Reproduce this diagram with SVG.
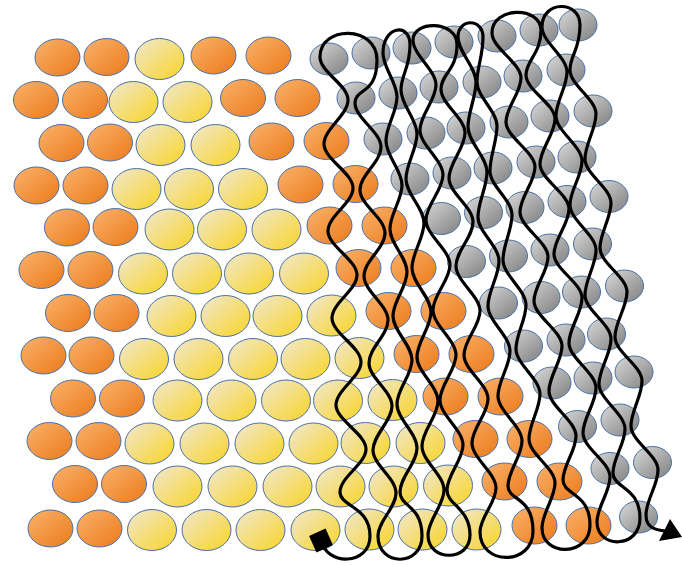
<svg xmlns="http://www.w3.org/2000/svg" xmlns:xlink="http://www.w3.org/1999/xlink" width="682" height="565" viewBox="0 0 682 565">
<style>
.line{fill:none;stroke:#000;stroke-width:3.2;stroke-linejoin:round;stroke-linecap:round}
.sh{stroke:#4a6fa5;stroke-width:1}
</style>
<defs>
<linearGradient id="go" x1="0" y1="0" x2="1" y2="1"><stop offset="0" stop-color="#f9b26c"/><stop offset="1" stop-color="#ec7a1a"/></linearGradient>
<linearGradient id="gy" x1="0" y1="0" x2="1" y2="1"><stop offset="0" stop-color="#efe8d2"/><stop offset="1" stop-color="#fad424"/></linearGradient>
<linearGradient id="gg" x1="0" y1="0" x2="1" y2="1"><stop offset="0" stop-color="#dadada"/><stop offset="1" stop-color="#7f7f7f"/></linearGradient>
<ellipse id="eo" class="sh" rx="22.5" ry="18.5" fill="url(#go)"/>
<ellipse id="ey" class="sh" rx="24.5" ry="20.5" fill="url(#gy)"/>
<ellipse id="eg" class="sh" rx="19" ry="16" fill="url(#gg)"/>
</defs>
<rect width="682" height="565" fill="#fff"/>
<g id="row1">
<use href="#eo" x="57.5" y="57.5"/><use href="#eo" x="106.5" y="57"/><use href="#ey" x="159.5" y="59"/><use href="#eo" x="213.5" y="55.5"/><use href="#eo" x="268.5" y="55.5"/>
<use href="#eg" x="329" y="59"/><use href="#eg" x="371" y="53"/><use href="#eg" x="412" y="48"/><use href="#eg" x="454" y="42"/><use href="#eg" x="497" y="36"/><use href="#eg" x="539" y="30"/><use href="#eg" x="578" y="25"/>
</g>
<g id="row2">
<use href="#eo" x="36" y="100"/><use href="#eo" x="85" y="100"/><use href="#ey" x="133.5" y="102"/><use href="#ey" x="187.5" y="102"/><use href="#eo" x="243" y="98"/><use href="#eo" x="297.5" y="98"/>
<use href="#eg" x="356" y="98"/><use href="#eg" x="398" y="93"/><use href="#eg" x="439" y="87"/><use href="#eg" x="482" y="82"/><use href="#eg" x="523" y="76"/><use href="#eg" x="566" y="70"/>
</g>
<g id="row3">
<use href="#eo" x="61.5" y="143"/><use href="#eo" x="110" y="142.5"/><use href="#ey" x="160.5" y="145"/><use href="#ey" x="215.5" y="145"/><use href="#eo" x="271.5" y="141.5"/><use href="#eo" x="326.5" y="141"/>
<use href="#eg" x="383" y="139"/><use href="#eg" x="426" y="133"/><use href="#eg" x="466" y="128"/><use href="#eg" x="509" y="122"/><use href="#eg" x="550" y="116"/><use href="#eg" x="593" y="111"/>
</g>
<g id="row4">
<use href="#eo" x="36.5" y="185.5"/><use href="#eo" x="85.5" y="185.5"/><use href="#ey" x="136.5" y="189"/><use href="#ey" x="189" y="189"/><use href="#ey" x="243" y="189"/><use href="#eo" x="300.5" y="184.5"/><use href="#eo" x="355.5" y="184"/>
<use href="#eg" x="410" y="179"/><use href="#eg" x="452" y="173"/><use href="#eg" x="493" y="168"/><use href="#eg" x="536" y="162"/><use href="#eg" x="577" y="157"/>
</g>
<g id="row5">
<use href="#eo" x="67" y="227.5"/><use href="#eo" x="115.5" y="227"/><use href="#ey" x="169.5" y="229.5"/><use href="#ey" x="222" y="229.5"/><use href="#ey" x="276.5" y="229.5"/><use href="#eo" x="329.5" y="225.5"/><use href="#eo" x="384.5" y="225.5"/>
<use href="#eg" x="441.5" y="218.5"/><use href="#eg" x="483.5" y="212.5"/><use href="#eg" x="525" y="207.5"/><use href="#eg" x="567" y="201.5"/><use href="#eg" x="609" y="196.5"/>
</g>
<g id="row6">
<use href="#eo" x="41.5" y="270"/><use href="#eo" x="90.5" y="270"/><use href="#ey" x="143" y="273.5"/><use href="#ey" x="197" y="273.5"/><use href="#ey" x="249" y="273.5"/><use href="#ey" x="304" y="273.5"/><use href="#eo" x="358.5" y="268"/><use href="#eo" x="413.5" y="268"/>
<use href="#eg" x="466.5" y="261.5"/><use href="#eg" x="508.5" y="256"/><use href="#eg" x="550" y="250"/><use href="#eg" x="592.5" y="244"/>
</g>
<g id="row7">
<use href="#eo" x="68" y="313"/><use href="#eo" x="116.5" y="313"/><use href="#ey" x="171.5" y="316"/><use href="#ey" x="225.5" y="316"/><use href="#ey" x="277.5" y="316"/><use href="#ey" x="331.5" y="315.5"/><use href="#eo" x="388.5" y="311"/><use href="#eo" x="443.5" y="311"/>
<use href="#eg" x="498.5" y="303"/><use href="#eg" x="541" y="297.5"/><use href="#eg" x="581.5" y="292"/><use href="#eg" x="624.5" y="286"/>
</g>
<g id="row8">
<use href="#eo" x="43.5" y="355.5"/><use href="#eo" x="91.5" y="355.5"/><use href="#ey" x="144" y="359"/><use href="#ey" x="198.5" y="359"/><use href="#ey" x="253" y="359"/><use href="#ey" x="305.5" y="359"/><use href="#ey" x="359.5" y="358"/><use href="#eo" x="416.5" y="354"/><use href="#eo" x="471.5" y="354"/>
<use href="#eg" x="523.5" y="346"/><use href="#eg" x="566" y="340"/><use href="#eg" x="606.5" y="334"/>
</g>
<g id="row9">
<use href="#eo" x="73" y="398.5"/><use href="#eo" x="122" y="398.5"/><use href="#ey" x="177.5" y="400.5"/><use href="#ey" x="231.5" y="400.5"/><use href="#ey" x="286" y="400.5"/><use href="#ey" x="338" y="400.5"/><use href="#ey" x="392.5" y="400"/><use href="#eo" x="445.5" y="396.5"/><use href="#eo" x="500.5" y="396.5"/>
<use href="#eg" x="552" y="383"/><use href="#eg" x="593" y="378"/><use href="#eg" x="634" y="372"/>
</g>
<g id="row10">
<use href="#eo" x="49.5" y="441"/><use href="#eo" x="98.5" y="441"/><use href="#ey" x="149.5" y="443.5"/><use href="#ey" x="204.5" y="443.5"/><use href="#ey" x="259.5" y="443.5"/><use href="#ey" x="313.5" y="443.5"/><use href="#ey" x="365.5" y="443"/><use href="#ey" x="420.5" y="443"/><use href="#eo" x="475.5" y="439"/><use href="#eo" x="529.5" y="439"/>
<use href="#eg" x="577.5" y="426.5"/><use href="#eg" x="620" y="420"/>
</g>
<g id="row11">
<use href="#eo" x="75" y="484"/><use href="#eo" x="124" y="484"/><use href="#ey" x="177.5" y="486.5"/><use href="#ey" x="232.5" y="486.5"/><use href="#ey" x="287.5" y="486.5"/><use href="#ey" x="340.5" y="486.5"/><use href="#ey" x="393.5" y="486.5"/><use href="#ey" x="448" y="485.5"/><use href="#eo" x="504.5" y="481.5"/><use href="#eo" x="559.5" y="481.5"/>
<use href="#eg" x="610" y="468.5"/><use href="#eg" x="652.5" y="462.5"/>
</g>
<g id="row12">
<use href="#eo" x="50.5" y="528.5"/><use href="#eo" x="99.5" y="528.5"/><use href="#ey" x="152" y="530"/><use href="#ey" x="206.5" y="530"/><use href="#ey" x="260.5" y="530"/><use href="#ey" x="315.5" y="530"/><use href="#ey" x="369.5" y="529.5"/><use href="#ey" x="422.5" y="529.5"/><use href="#ey" x="476.5" y="529.5"/><use href="#eo" x="534.5" y="525.5"/><use href="#eo" x="588.5" y="525.5"/>
<use href="#eg" x="638.5" y="517"/>
</g>
<g id="connectors">
<path class="line" d="M321,540 C326,566 370,566 370,536
S340,507 340,492 S366,464 366,449 S336,420 336,405 S361,377 361,362 S332,333 332,318 S357,290 357,275 S328,246 328,231 S353,203 353,188 S324,159 324,144 S348,115 348,100 S320,72 320,57
C320,25 377,25 377,60
S355,88 355,103 S381,132 381,147 S360,175 360,190 S385,218 385,233 S364,261 364,276 S388,305 388,320 S369,348 369,363 S392,391 392,406 S373,435 373,450 S396,478 396,493 S378,521 378,536
C378,567 422,567 422,536
S400,507 400,492 S417,463 417,448 S397,419 397,404 S412,375 412,360 S393,331 393,316 S407,287 407,272 S390,244 390,229 S402,200 402,185 S386,156 386,141 S397,112 397,97 S383,68 383,53
C383,26 410,22 410,45
S401,75 401,90 S417,119 417,134 S406,164 406,179 S424,208 424,223 S412,253 412,268 S431,297 431,312 S417,342 417,357 S438,386 438,401 S422,431 422,446 S444,475 444,490 S428,520 428,535
C428,562 470,562 470,535
S447,505 447,490 S463,460 463,445 S440,415 440,400 S456,370 456,355 S433,325 433,310 S450,280 450,265 S426,235 426,220 S443,190 443,175 S420,145 420,130 S436,100 436,85 S413,55 413,40
C413,20 457,20 457,45
S441,74 441,89 S465,118 465,133 S449,163 449,178 S473,207 473,222 S456,251 456,266 S480,296 480,311 S464,340 464,355 S488,384 488,399 S472,428 472,443 S496,473 496,488 S480,517 480,532
C480,566 533,566 533,531
S508,501 508,486 S522,456 522,441 S498,411 498,396 S510,366 510,351 S488,321 488,306 S499,276 499,261 S478,232 478,217 S487,187 487,172 S468,142 468,127 S476,97 476,82 S458,52 458,37
C458,18 483,18 483,37
S477,67 477,82 S497,111 497,126 S490,156 490,171 S512,200 512,215 S503,245 503,260 S526,290 526,305 S516,334 516,349 S540,379 540,394 S529,424 529,439 S555,468 555,483 S542,513 542,528
C542,557 590,557 590,525
S563,495 563,480 S576,451 576,436 S549,406 549,391 S562,361 562,346 S534,316 534,301 S548,272 548,257 S520,227 520,212 S535,182 535,167 S506,137 506,122 S521,93 521,78 S492,48 492,33
C492,6 541,6 541,30
S526,60 526,75 S555,104 555,119 S540,149 540,164 S569,194 569,209 S554,239 554,254 S582,283 582,298 S569,328 569,343 S596,373 596,388 S583,418 583,433 S610,462 610,477 S597,507 597,522
C597,549 640,549 640,518
S613,488 613,473 S625,444 625,429 S599,399 599,384 S611,354 611,339 S585,310 585,295 S596,265 596,250 S570,220 570,205 S582,176 582,161 S556,131 556,116 S567,87 567,72 S542,42 542,27
C542,0 580,0 580,25
S570,55 570,70 S596,99 596,114 S585,144 585,159 S611,188 611,203 S600,233 600,248 S627,277 627,292 S615,322 615,337 S642,366 642,381 S631,411 631,426 S658,455 658,470 S646,500 646,515
C646,528 655,530 666,531"/>
<rect x="-9" y="-9" width="18" height="18" fill="#000" transform="translate(321,540.5) rotate(-24)"/>
<polygon points="659,541 670,519 682,537" fill="#000"/>
</g>
</svg>
